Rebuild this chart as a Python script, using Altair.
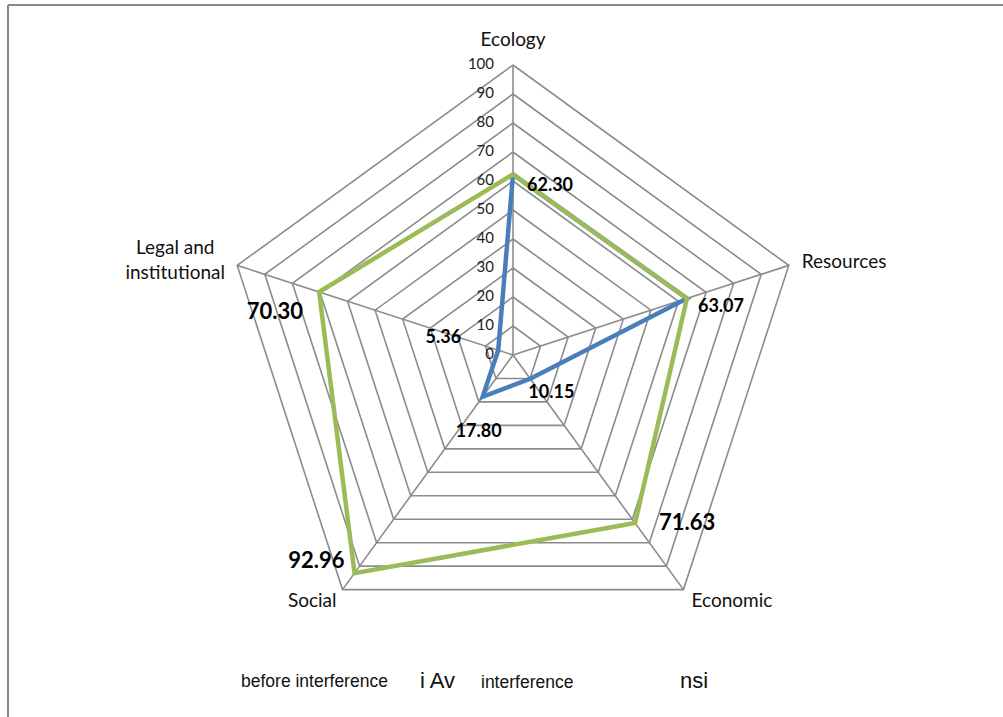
import altair as alt
import pandas as pd

# ---------------- data ----------------
axes_names = ["Ecology", "Resources", "Economic", "Social", "Legal and institutional"]
before_values = [62.30, 63.07, 10.15, 17.80, 5.36]
after_values = [62.30, 63.07, 71.63, 92.96, 70.30]
ring_levels = [10, 20, 30, 40, 50, 60, 70, 80, 90, 100]
tick_values = [0, 10, 20, 30, 40, 50, 60, 70, 80, 90, 100]
tick_labels = ["0", "10", "20", "30", "40", "50", "60", "70", "80", "90", "100"]
legend_fragments = ["before interference", "i Av", "interference", "nsi"]

N = len(axes_names)
W, H = 1003, 717
CX, CY, R = 513, 355, 290.0  # layout: centre and radius in pixels
unit = R / 100.0
xdom = [-CX / unit, (W - CX) / unit]
ydom = [-(H - CY) / unit, CY / unit]

def polar(chart):
    return chart.transform_calculate(
        px="datum.value * sin(datum.idx * 2 * PI / %d)" % N,
        py="datum.value * cos(datum.idx * 2 * PI / %d)" % N,
    )

X = lambda f="px": alt.X(f + ":Q", scale=alt.Scale(domain=xdom, nice=False, zero=False), axis=None)
Y = lambda f="py": alt.Y(f + ":Q", scale=alt.Scale(domain=ydom, nice=False, zero=False), axis=None)

GRID = "#8c8c8c"
BLUE = "#4a7ebb"
GREEN = "#9bbb59"
FONT = "Lato"

# grid rings
ring_rows = []
for lv in ring_levels:
    for k in range(N + 1):
        ring_rows.append({"level": lv, "idx": k % N, "ord": k, "value": lv})
rings = polar(alt.Chart(pd.DataFrame(ring_rows))).mark_line(
    color=GRID, strokeWidth=1.6
).encode(x=X(), y=Y(), detail="level:N", order="ord:Q")

# spokes
spoke_df = pd.DataFrame({"idx": list(range(N)), "value": [100] * N, "zero": [0] * N})
spokes = polar(alt.Chart(spoke_df)).mark_rule(color=GRID, strokeWidth=1.6).encode(
    x=X("zero"), y=Y("zero"), x2="px:Q", y2="py:Q"
)

# series
def series_df(vals, name):
    rows = []
    for k in range(N + 1):
        rows.append({"series": name, "idx": k % N, "ord": k, "value": vals[k % N]})
    return pd.DataFrame(rows)

blue_line = polar(alt.Chart(series_df(before_values, "before"))).mark_line(
    color=BLUE, strokeWidth=4.5, strokeJoin="miter"
).encode(x=X(), y=Y(), order="ord:Q")
green_line = polar(alt.Chart(series_df(after_values, "after"))).mark_line(
    color=GREEN, strokeWidth=4.5, strokeJoin="miter"
).encode(x=X(), y=Y(), order="ord:Q")

# tick labels along the Ecology spoke
tick_df = pd.DataFrame({"idx": [0] * len(tick_values), "value": tick_values, "label": tick_labels})
ticks = polar(alt.Chart(tick_df)).mark_text(
    align="right", baseline="middle", dx=-19, dy=-1, fontSize=15, font=FONT, color="#222"
).encode(x=X(), y=Y(), text="label:N")

# category labels
cat_style = {
    0: [("Ecology", "center", 0, -25)],
    1: [("Resources", "left", 13, -3)],
    2: [("Economic", "left", 8, 11)],
    3: [("Social", "right", -6, 11)],
    4: [("Legal and", "center", -62, -17), ("institutional", "center", -62, 8)],
}
cat_layers = []
for i in range(N):
    for txt, al, dx, dy in cat_style[i]:
        d = pd.DataFrame({"idx": [i], "value": [100], "label": [txt]})
        cat_layers.append(
            polar(alt.Chart(d)).mark_text(
                align=al, baseline="middle", dx=dx, dy=dy, fontSize=19, font=FONT, color="#111"
            ).encode(x=X(), y=Y(), text="label:N")
        )

# data labels: (align, dx, dy, size)
label_style = {
    ("after", 0): ("left", 14, 12, 18),
    ("after", 1): ("left", 11, 9, 18),
    ("after", 2): ("left", 24, 0, 22),
    ("after", 3): ("right", -10, -12, 22),
    ("after", 4): ("right", -16, 20, 22),
    ("before", 2): ("left", -2, 14, 18),
    ("before", 3): ("center", -4, 35, 18),
    ("before", 4): ("right", -37, -12, 18),
}
label_layers = []
for (ser, i), (al, dx, dy, fs) in label_style.items():
    v = after_values[i] if ser == "after" else before_values[i]
    d = pd.DataFrame({"idx": [i], "value": [v], "label": ["%.2f" % v]})
    label_layers.append(
        polar(alt.Chart(d)).mark_text(
            align=al, baseline="middle", dx=dx, dy=dy, fontSize=fs, fontWeight="bold",
            font=FONT, color="#000"
        ).encode(x=X(), y=Y(), text="label:N")
    )

# garbled legend fragments
leg_pos = [(241, 682, 17.5), (420, 681, 22), (481, 683, 17.5), (680, 681, 22)]
leg_layers = []
for txt, (lx, ly, fs) in zip(legend_fragments, leg_pos):
    leg_layers.append(
        alt.Chart(pd.DataFrame({"t": [txt]})).mark_text(
            align="left", baseline="middle", fontSize=fs, font="Liberation Sans", color="#111"
        ).encode(x=alt.value(lx), y=alt.value(ly), text="t:N")
    )

# outer frame (top and left edges)
frame_top = alt.Chart(pd.DataFrame({"a": [0]})).mark_rule(color="#888888", strokeWidth=2).encode(
    x=alt.value(8), x2=alt.value(W), y=alt.value(5)
)
frame_left = alt.Chart(pd.DataFrame({"a": [0]})).mark_rule(color="#888888", strokeWidth=2).encode(
    x=alt.value(8), y=alt.value(5), y2=alt.value(H)
)

chart = alt.layer(
    frame_top, frame_left, rings, spokes, blue_line, green_line, ticks,
    *cat_layers, *label_layers, *leg_layers
).properties(
    width=W, height=H, padding=0, autosize="none", background="white"
).configure_view(strokeWidth=0)

chart.save("out.html", embed_options={"renderer": "svg", "actions": False})
